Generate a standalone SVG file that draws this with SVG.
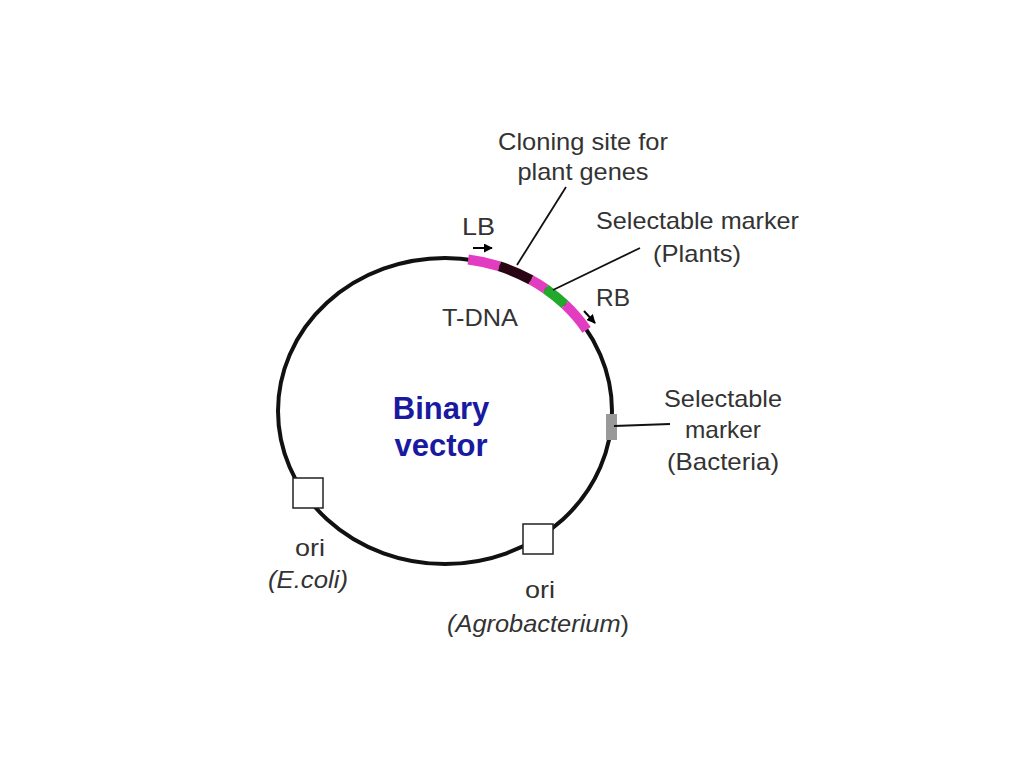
<svg xmlns="http://www.w3.org/2000/svg" width="1024" height="767" viewBox="0 0 1024 767">
<style>
text{font-family:"Liberation Sans",Arial,sans-serif;fill:#333;font-size:24px}
.c{text-anchor:middle}
.i{font-style:italic}
.b{font-weight:bold;fill:#1a1aa0;font-size:31px}
.lead{stroke:#111;stroke-width:1.8;fill:none}
.box{fill:#fff;stroke:#222;stroke-width:1.5}
</style>
<defs>
<marker id="ah" viewBox="0 0 10 10" refX="9" refY="5" markerWidth="9" markerHeight="9" orient="auto" markerUnits="userSpaceOnUse"><path d="M0,0 L10,5 L0,10 z" fill="#000"/></marker>
</defs>
<rect width="1024" height="767" fill="#fff"/>
<g id="plasmid">
<ellipse cx="445" cy="411" rx="167" ry="153" fill="none" stroke="#111" stroke-width="4"/>
</g>
<g id="tdna">
<path d="M468.2,259.5 A167,153 0 0 1 499.4,266.3" fill="none" stroke="#e23cc0" stroke-width="10"/>
<path d="M499.4,266.3 A167,153 0 0 1 531,279.9" fill="none" stroke="#2a0514" stroke-width="10"/>
<path d="M531,279.9 A167,153 0 0 1 545.5,288.8" fill="none" stroke="#e23cc0" stroke-width="10"/>
<path d="M545.5,288.8 A167,153 0 0 1 565.1,304.7" fill="none" stroke="#22a82a" stroke-width="10"/>
<path d="M565.1,304.7 A167,153 0 0 1 586.6,329.9" fill="none" stroke="#e23cc0" stroke-width="10"/>
</g>
<g id="bact-marker"><rect x="606" y="414" width="11" height="26" fill="#999"/></g>
<g id="ori-ecoli"><rect class="box" x="293" y="478" width="30" height="30"/></g>
<g id="ori-agro"><rect class="box" x="523" y="524" width="30" height="30"/></g>
<g id="connectors">
<line class="lead" x1="517" y1="265" x2="566" y2="187"/>
<line class="lead" x1="553" y1="290" x2="640" y2="248"/>
<line class="lead" x1="614" y1="426" x2="670" y2="424"/>
<line x1="473" y1="248" x2="492" y2="248" stroke="#000" stroke-width="2" marker-end="url(#ah)"/>
<line x1="584" y1="311" x2="595" y2="323" stroke="#000" stroke-width="2" marker-end="url(#ah)"/>
</g>
<g id="labels">
<text class="c" x="583" y="150" textLength="170" lengthAdjust="spacingAndGlyphs">Cloning site for</text>
<text class="c" x="583" y="180" textLength="131" lengthAdjust="spacingAndGlyphs">plant genes</text>
<text x="462" y="235" textLength="33" lengthAdjust="spacingAndGlyphs">LB</text>
<text x="596" y="229" textLength="203" lengthAdjust="spacingAndGlyphs">Selectable marker</text>
<text x="653" y="262" textLength="88" lengthAdjust="spacingAndGlyphs">(Plants)</text>
<text x="596" y="306" textLength="34" lengthAdjust="spacingAndGlyphs">RB</text>
<text x="442" y="326" textLength="76" lengthAdjust="spacingAndGlyphs">T-DNA</text>
<text class="c b" x="441" y="419">Binary</text>
<text class="c b" x="441" y="456">vector</text>
<text class="c" x="723" y="407" textLength="118" lengthAdjust="spacingAndGlyphs">Selectable</text>
<text class="c" x="723" y="438" textLength="76" lengthAdjust="spacingAndGlyphs">marker</text>
<text class="c" x="723" y="470" textLength="112" lengthAdjust="spacingAndGlyphs">(Bacteria)</text>
<text class="c" x="310" y="556" textLength="30" lengthAdjust="spacingAndGlyphs">ori</text>
<text class="c i" x="308" y="588" textLength="80" lengthAdjust="spacingAndGlyphs">(E.coli)</text>
<text class="c" x="540" y="598" textLength="30" lengthAdjust="spacingAndGlyphs">ori</text>
<text class="c" x="538" y="632" textLength="182" lengthAdjust="spacingAndGlyphs"><tspan class="i">(Agrobacterium</tspan>)</text>
</g>
</svg>
